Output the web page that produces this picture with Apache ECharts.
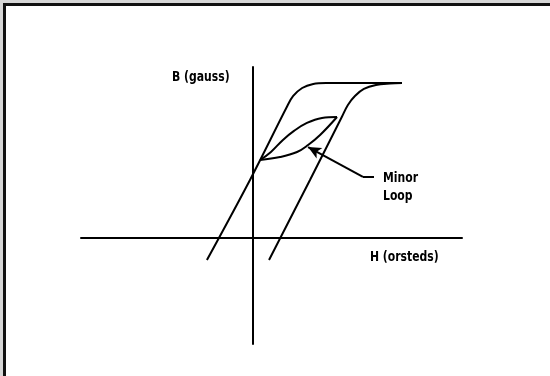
<!DOCTYPE html>
<html>
<head>
<meta charset="utf-8">
<script src="https://cdn.jsdelivr.net/npm/echarts@6/dist/echarts.min.js"></script>
<style>
  html, body { margin: 0; padding: 0; background: #d6d6d6; width: 550px; height: 376px; overflow: hidden; }
  #bg { position: absolute; left: 0; top: 0; width: 550px; height: 376px; background: #d6d6d6; }
  #frame { position: absolute; left: 3px; top: 3px; width: 547px; height: 373px;
           border-left: 3px solid #111; border-top: 3px solid #111; background: #fff; box-sizing: border-box; }
  #chart { position: absolute; left: 0; top: 0; width: 550px; height: 376px; }
</style>
</head>
<body>
<div id="bg"></div>
<div id="frame"></div>
<div id="chart"></div>
<script>
// Axis ranges (H in orsteds, B in gauss; arbitrary units)
const hRange = [-9, 11];
const bRange = [-10, 16];

// Major hysteresis loop: ascending branch (left) and descending branch (right)
const ascH  = [-2.39, -0.13, 1.83, 2.14, 2.61, 3.19, 3.86, 5.64, 7.85];
const ascB  = [-2.11, 5.40, 12.34, 13.28, 14.03, 14.41, 14.50, 14.50, 14.50];
const descH = [7.85, 7.22, 6.48, 5.85, 5.38, 5.01, 4.69, 3.02, 0.87];
const descB = [14.50, 14.45, 14.31, 13.94, 13.28, 12.44, 11.31, 5.40, -2.11];

// Minor loop: upper and lower branches
const minorUpH = [0.40, 0.97, 1.60, 2.18, 2.86, 3.65, 4.44];
const minorUpB = [7.27, 8.03, 9.15, 10.00, 10.75, 11.22, 11.31];
const minorLoH = [0.40, 1.45, 2.34, 2.92, 3.55, 4.44];
const minorLoB = [7.27, 7.55, 8.02, 8.68, 9.62, 11.31];

// Leader arrow for "Minor Loop" annotation: start, bend, tip
const arrowH = [6.38, 5.80, 2.92];
const arrowB = [5.68, 5.68, 8.49];

// Texts
const yAxisTitle = 'B (gauss)';
const xAxisTitle = 'H (orsteds)';
const noteLines = ['Minor', 'Loop'];

const zip = (a, b) => a.map((v, i) => [v, b[i]]);
const NARROW = 0.86;

const lineSeries = (name, h, b, smooth) => ({
  name, type: 'line', data: zip(h, b), symbol: 'none', smooth: smooth,
  lineStyle: { color: '#000', width: 2 }, silent: true, animation: false, z: 3
});

const txt = (x, y, text) => ({
  type: 'text', x, y, scaleX: NARROW, silent: true,
  style: {
    text, fill: '#000',
    font: 'bold 14px "DejaVu Sans Condensed", "DejaVu Sans", sans-serif',
    verticalAlign: 'middle', align: 'left'
  }
});

const chart = echarts.init(document.getElementById('chart'), null, { renderer: 'canvas' });
chart.setOption({
  animation: false,
  backgroundColor: 'transparent',
  grid: { left: 81, right: 88, top: 67, bottom: 32, containLabel: false },
  xAxis: {
    type: 'value', min: hRange[0], max: hRange[1],
    axisLine: { show: true, onZero: true, lineStyle: { color: '#000', width: 2 } },
    axisTick: { show: false }, axisLabel: { show: false }, splitLine: { show: false }
  },
  yAxis: {
    type: 'value', min: bRange[0], max: bRange[1],
    axisLine: { show: true, onZero: true, lineStyle: { color: '#000', width: 2 } },
    axisTick: { show: false }, axisLabel: { show: false }, splitLine: { show: false }
  },
  series: [
    lineSeries('ascending', ascH, ascB, 0.35),
    lineSeries('descending', descH, descB, 0.35),
    lineSeries('minorUpper', minorUpH, minorUpB, 0.4),
    lineSeries('minorLower', minorLoH, minorLoB, 0.4),
    {
      type: 'line', data: [], silent: true,
      markLine: {
        silent: true, animation: false,
        lineStyle: { color: '#000', width: 2, type: 'solid' },
        label: { show: false },
        symbolSize: [9, 13],
        data: [
          [{ coord: [arrowH[0], arrowB[0]], symbol: 'none' }, { coord: [arrowH[1], arrowB[1]], symbol: 'none' }],
          [{ coord: [arrowH[1], arrowB[1]], symbol: 'none' }, { coord: [arrowH[2], arrowB[2]], symbol: 'arrow' }]
        ]
      }
    }
  ],
  graphic: [
    txt(172, 77, yAxisTitle),
    txt(370, 257, xAxisTitle),
    txt(383, 178, noteLines[0]),
    txt(383, 196, noteLines[1])
  ]
});
</script>
</body>
</html>
